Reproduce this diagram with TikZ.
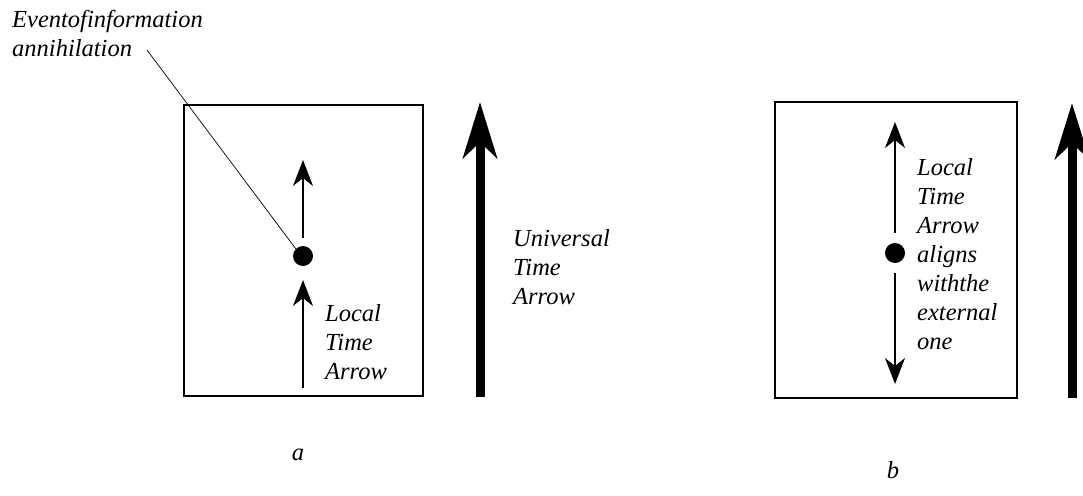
\documentclass[tikz,border=0pt]{standalone}
\usepackage{fontspec}
\setmainfont{Liberation Serif}
\usetikzlibrary{arrows.meta}
\tikzset{
  lbl/.style={font=\fontsize{24.5}{29}\selectfont\itshape, align=left, inner sep=0pt},
  thin/.style={line width=1.4pt, -{Stealth[length=26pt,width=20pt,inset=8pt]}},
  thick/.style={line width=9pt, -{Stealth[length=56pt,width=34pt,inset=16pt]}},
  dot/.style={circle, fill=black, inner sep=0pt, minimum size=20pt},
}
\begin{document}
\begin{tikzpicture}[x=1pt,y=-1pt]
    \useasboundingbox (0,0) rectangle (1083,495);
    % part a
    \draw[line width=1.2pt] (184,105) rectangle (423,396);
    \node[dot] (dotA) at (303,256) {};
    \coordinate (aTop) at (303,160);
    \coordinate (aBot) at (303,388);
    \coordinate (aMid) at (303,238);
    \coordinate (aLow) at (303,280);
    \draw[thin] (aMid) -- (aTop);
    \draw[thin] (aBot) -- (aLow);
    \node[lbl, anchor=west] (localA) at (325,342) {Local\\Time\\Arrow};
    \node[lbl, anchor=west] (event) at (12,34) {Eventofinformation\\annihilation};
    \coordinate (lead) at (147,50);
    \draw[line width=0.7pt] (lead) -- (dotA.north west);
    \coordinate (uBotA) at (480,397);
    \coordinate (uTopA) at (480,102);
    \draw[thick] (uBotA) -- (uTopA);
    \node[lbl, anchor=west] (univ) at (513,267) {Universal\\Time\\Arrow};
    \node[lbl] (capA) at (298,455) {a};
    % part b
    \draw[line width=1.2pt] (775,102) rectangle (1017,398);
    \node[dot] (dotB) at (895,253) {};
    \coordinate (bTop) at (895,122);
    \coordinate (bBot) at (895,384);
    \coordinate (bMid) at (895,233);
    \coordinate (bLow) at (895,273);
    \draw[thin] (bMid) -- (bTop);
    \draw[thin] (bLow) -- (bBot);
    \node[lbl, anchor=west] (localB) at (917,254) {Local\\Time\\Arrow\\aligns\\withthe\\external\\one};
    \coordinate (uBotB) at (1072,398);
    \coordinate (uTopB) at (1072,103);
    \draw[thick] (uBotB) -- (uTopB);
    \node[lbl] (capB) at (893,470) {b};
  \end{tikzpicture}
\end{document}
